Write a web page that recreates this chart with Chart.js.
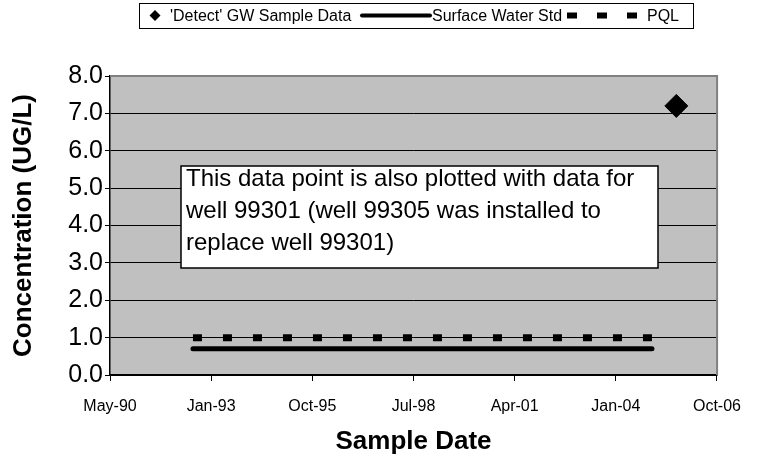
<!DOCTYPE html>
<html>
<head>
<meta charset="utf-8">
<script src="https://cdn.jsdelivr.net/npm/chart.js@4/dist/chart.umd.min.js"></script>
<style>
  html, body { margin: 0; padding: 0; background: #ffffff; }
  #c { display: block; }
</style>
</head>
<body>
<canvas id="c" width="757" height="461"></canvas>
<script>
// ---- data ----
const detectDates   = ['2005-09-02'];
const detectValues  = [7.2];
const lineDates     = ['1992-08-03', '2005-01-04'];
const surfaceStd    = [0.7, 0.7];
const pqlValues     = [1.0, 1.0];
const xTickLabels   = ['May-90', 'Jan-93', 'Oct-95', 'Jul-98', 'Apr-01', 'Jan-04', 'Oct-06'];
const yTickLabels   = ['0.0', '1.0', '2.0', '3.0', '4.0', '5.0', '6.0', '7.0', '8.0'];
const seriesNames   = ["'Detect' GW Sample Data", 'Surface Water Std', 'PQL'];
const noteLines     = ['This data point is also plotted with data for',
                       'well 99301 (well 99305 was installed to',
                       'replace well 99301)'];

// Excel-style serial day numbers
function serial(iso) {
  const [y, m, d] = iso.split('-').map(Number);
  return (Date.UTC(y, m - 1, d) - Date.UTC(1899, 11, 30)) / 86400000;
}
const pts = (dates, vals) => dates.map((d, i) => ({ x: serial(d), y: vals[i] }));

const FONT = "'Liberation Sans', Arial, Helvetica, sans-serif";

const bgPlugin = {
  id: 'bg',
  beforeDraw(chart) {
    const { ctx, chartArea: a } = chart;
    ctx.save();
    ctx.fillStyle = '#ffffff';
    ctx.fillRect(0, 0, chart.width, chart.height);
    ctx.fillStyle = '#C0C0C0';
    ctx.fillRect(a.left, a.top, a.right - a.left, a.bottom - a.top);
    ctx.restore();
  },
  beforeDatasetsDraw(chart) {
    const { ctx, chartArea: a } = chart;
    ctx.save();
    ctx.strokeStyle = '#808080';
    ctx.lineWidth = 2;
    ctx.beginPath();
    ctx.moveTo(a.left, a.top);
    ctx.lineTo(a.right, a.top);
    ctx.lineTo(a.right, a.bottom);
    ctx.stroke();
    ctx.restore();
  }
};

const notePlugin = {
  id: 'note',
  afterDatasetsDraw(chart) {
    const { ctx, chartArea: a } = chart;
    const x0 = a.left + 71, y0 = a.top + 90, w = 477, h = 102;
    ctx.save();
    ctx.fillStyle = '#ffffff';
    ctx.fillRect(x0, y0, w, h);
    ctx.strokeStyle = '#000000';
    ctx.lineWidth = 1.5;
    ctx.strokeRect(x0, y0, w, h);
    ctx.fillStyle = '#000000';
    ctx.font = '24px ' + FONT;
    ctx.textBaseline = 'alphabetic';
    ctx.textAlign = 'left';
    noteLines.forEach((t, i) => ctx.fillText(t, x0 + 5, y0 + 20 + i * 32));
    ctx.restore();
  }
};

const legendPlugin = {
  id: 'legendBox',
  afterDraw(chart) {
    const ctx = chart.ctx;
    const top = 3, bottom = 28, left = 139, right = 693;
    const cy = (top + bottom) / 2;
    ctx.save();
    ctx.fillStyle = '#ffffff';
    ctx.fillRect(left, top, right - left, bottom - top);
    ctx.strokeStyle = '#000000';
    ctx.lineWidth = 1;
    ctx.strokeRect(left + 0.5, top + 0.5, right - left, bottom - top);
    ctx.font = '16px ' + FONT;
    ctx.fillStyle = '#000000';
    ctx.textBaseline = 'middle';
    ctx.textAlign = 'left';
    // diamond
    const dx = 155, r = 5.5;
    ctx.beginPath();
    ctx.moveTo(dx, cy - r); ctx.lineTo(dx + r, cy); ctx.lineTo(dx, cy + r); ctx.lineTo(dx - r, cy);
    ctx.closePath(); ctx.fill();
    ctx.fillText(seriesNames[0], 170, cy + 1);
    // solid sample
    ctx.strokeStyle = '#000000';
    ctx.lineWidth = 4;
    ctx.lineCap = 'round';
    ctx.beginPath(); ctx.moveTo(362, cy); ctx.lineTo(430, cy); ctx.stroke();
    ctx.fillText(seriesNames[1], 432, cy + 1);
    // dashed sample
    ctx.lineWidth = 6;
    ctx.lineCap = 'butt';
    ctx.setLineDash([10, 20]);
    ctx.beginPath(); ctx.moveTo(567, cy); ctx.lineTo(640, cy); ctx.stroke();
    ctx.setLineDash([]);
    ctx.fillText(seriesNames[2], 647, cy + 1);
    ctx.restore();
  }
};

new Chart(document.getElementById('c'), {
  type: 'scatter',
  data: {
    datasets: [
      {
        label: seriesNames[0],
        data: pts(detectDates, detectValues),
        showLine: false,
        pointStyle: 'rectRot',
        pointRadius: 11.5,
        pointBackgroundColor: '#000000',
        pointBorderColor: '#000000',
        pointBorderWidth: 1,
        order: 0
      },
      {
        label: seriesNames[1],
        data: pts(lineDates, surfaceStd),
        showLine: true,
        borderColor: '#000000',
        borderWidth: 5,
        borderCapStyle: 'round',
        pointRadius: 0,
        order: 2
      },
      {
        label: seriesNames[2],
        data: pts(lineDates, pqlValues),
        showLine: true,
        borderColor: '#000000',
        borderWidth: 7,
        borderDash: [9, 21],
        borderCapStyle: 'butt',
        pointRadius: 0,
        order: 1
      }
    ]
  },
  options: {
    responsive: false,
    animation: false,
    devicePixelRatio: 1,
    layout: { padding: { top: 76, right: 32, bottom: 0, left: 0 } },
    plugins: { legend: { display: false }, tooltip: { enabled: false } },
    scales: {
      x: {
        type: 'linear',
        min: serial('1990-05-06'),
        max: serial('2006-10-10'),
        afterBuildTicks(scale) {
          scale.ticks = xTickLabels.map((_, i) => ({ value: scale.min + i * 1000 }));
        },
        afterFit(scale) { scale.height = 86; },
        grid: { drawOnChartArea: false, drawTicks: true, tickLength: 6, color: '#000000' },
        border: { display: true, color: '#000000', width: 1.5 },
        ticks: {
          color: '#000000',
          font: { family: FONT, size: 16 },
          padding: 16,
          maxRotation: 0,
          autoSkip: false,
          callback: (v, i) => xTickLabels[i]
        },
        title: {
          display: true,
          text: 'Sample Date',
          color: '#000000',
          font: { family: FONT, size: 26, weight: 'bold' },
          padding: { top: 0, bottom: 4 }
        }
      },
      y: {
        min: 0,
        max: 8,
        afterBuildTicks(scale) {
          scale.ticks = yTickLabels.map((_, i) => ({ value: i }));
        },
        afterFit(scale) { scale.width = 110; },
        grid: { drawOnChartArea: true, drawTicks: true, tickLength: 5, color: '#000000', lineWidth: 1 },
        border: { display: true, color: '#000000', width: 1.5 },
        ticks: {
          color: '#000000',
          font: { family: FONT, size: 25 },
          padding: 2,
          autoSkip: false,
          callback: (v, i) => yTickLabels[i]
        },
        title: {
          display: true,
          text: 'Concentration (UG/L)',
          color: '#000000',
          font: { family: FONT, size: 26, weight: 'bold' },
          padding: { top: 8, bottom: 0 }
        }
      }
    }
  },
  plugins: [bgPlugin, notePlugin, legendPlugin]
});
</script>
</body>
</html>
